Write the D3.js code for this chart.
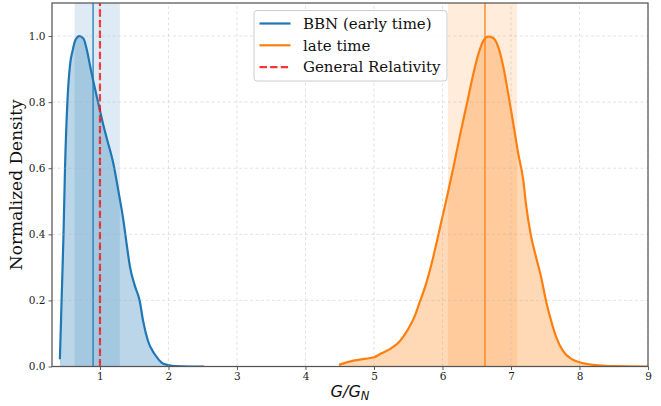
<!DOCTYPE html>
<html>
<head>
<meta charset="utf-8">
<script src="https://cdn.jsdelivr.net/npm/d3@7"></script>
<style>
  html, body { margin: 0; padding: 0; background: #fff; }
  svg { display: block; }
</style>
</head>
<body>
<svg id="chart" width="661" height="406"></svg>
<script>
// Posterior density of G/G_N for the two epochs
const bbnX = [0.415, 0.44, 0.468, 0.49, 0.526, 0.565, 0.60, 0.64, 0.70, 0.76, 0.81, 0.855, 0.90, 0.95, 1.0, 1.05, 1.1, 1.2, 1.27, 1.34, 1.39, 1.44, 1.51, 1.58, 1.63, 1.70, 1.80, 1.90, 2.0, 2.1, 2.3, 2.52];
const bbnY = [0.022, 0.20, 0.40, 0.60, 0.806, 0.916, 0.955, 0.987, 1.0, 0.992, 0.957, 0.911, 0.866, 0.82, 0.775, 0.73, 0.69, 0.61, 0.53, 0.445, 0.37, 0.30, 0.244, 0.199, 0.138, 0.078, 0.037, 0.012, 0.004, 0.001, 0.0, 0.0];

const lateX = [4.49, 4.70, 4.89, 5.0, 5.11, 5.25, 5.37, 5.49, 5.59, 5.66, 5.76, 5.84, 5.92, 5.985, 6.055, 6.16, 6.26, 6.356, 6.45, 6.525, 6.598, 6.67, 6.74, 6.816, 6.89, 6.96, 7.034, 7.107, 7.18, 7.22, 7.29, 7.366, 7.44, 7.51, 7.585, 7.66, 7.756, 7.88, 8.0, 8.2, 8.5, 9.0];
const lateY = [0.005, 0.018, 0.024, 0.028, 0.04, 0.055, 0.075, 0.11, 0.15, 0.19, 0.25, 0.31, 0.38, 0.44, 0.503, 0.603, 0.704, 0.795, 0.885, 0.946, 0.986, 0.998, 0.994, 0.966, 0.905, 0.825, 0.734, 0.643, 0.563, 0.49, 0.397, 0.331, 0.27, 0.20, 0.139, 0.089, 0.048, 0.023, 0.013, 0.005, 0.001, 0.0];

// Median and 68% interval of each posterior
const bbnMedian = 0.90;
const bbnBand = [0.63, 1.29];
const lateMedian = 6.62;
const lateBand = [6.08, 7.09];
const grValue = 1.0;

const xTicks = [1, 2, 3, 4, 5, 6, 7, 8, 9];
const yTicks = [0.0, 0.2, 0.4, 0.6, 0.8, 1.0];
const legendLabels = ["BBN (early time)", "late time", "General Relativity"];

const blue = "#1f77b4", orange = "#ff7f0e", red = "#ff0000";
const serif = "'DejaVu Serif', serif";

const svg = d3.select("#chart");
const W = 661, H = 406;
const margin = { left: 52, right: 13, top: 3, bottom: 39.5 };
const x = d3.scaleLinear().domain([0.3, 9]).range([margin.left, W - margin.right]);
const y = d3.scaleLinear().domain([0, 1.1]).range([H - margin.bottom, margin.top]);

const bbn = bbnX.map((v, i) => ({ x: v, y: bbnY[i] }));
const late = lateX.map((v, i) => ({ x: v, y: lateY[i] }));

svg.append("defs").append("clipPath").attr("id", "plot")
  .append("rect").attr("x", x.range()[0]).attr("y", y.range()[1])
  .attr("width", x.range()[1] - x.range()[0]).attr("height", y.range()[0] - y.range()[1]);

const g = svg.append("g").attr("clip-path", "url(#plot)");

// interval bands
[[bbnBand, blue], [lateBand, orange]].forEach(([b, c]) => {
  g.append("rect")
    .attr("x", x(b[0])).attr("width", x(b[1]) - x(b[0]))
    .attr("y", y(1.1)).attr("height", y(0) - y(1.1))
    .attr("fill", c).attr("fill-opacity", 0.15);
});

// area under density
const area = d3.area().x(d => x(d.x)).y0(y(0)).y1(d => y(d.y)).curve(d3.curveMonotoneX);
g.append("path").datum(bbn).attr("d", area).attr("fill", blue).attr("fill-opacity", 0.3);
g.append("path").datum(late).attr("d", area).attr("fill", orange).attr("fill-opacity", 0.3);

// grid
const grid = svg.append("g").attr("stroke", "#b0b0b0").attr("stroke-opacity", 0.45)
  .attr("stroke-width", 0.8).attr("stroke-dasharray", "3,2.5");
xTicks.forEach(t => grid.append("line").attr("x1", x(t)).attr("x2", x(t)).attr("y1", y(0)).attr("y2", y(1.1)));
yTicks.forEach(t => grid.append("line").attr("x1", x(0.3)).attr("x2", x(9)).attr("y1", y(t)).attr("y2", y(t)));

// density curves
const line = d3.line().x(d => x(d.x)).y(d => y(d.y)).curve(d3.curveMonotoneX);
g.append("path").datum(bbn).attr("d", line).attr("fill", "none").attr("stroke", blue).attr("stroke-width", 2.2).attr("stroke-linejoin", "round");
g.append("path").datum(late).attr("d", line).attr("fill", "none").attr("stroke", orange).attr("stroke-width", 2.2).attr("stroke-linejoin", "round");

// medians
[[bbnMedian, blue], [lateMedian, orange]].forEach(([m, c]) => {
  g.append("line").attr("x1", x(m)).attr("x2", x(m)).attr("y1", y(0)).attr("y2", y(1.1))
    .attr("stroke", c).attr("stroke-width", 1.5).attr("stroke-opacity", 0.85);
});

// GR reference
g.append("line").attr("x1", x(grValue)).attr("x2", x(grValue)).attr("y1", y(0)).attr("y2", y(1.1))
  .attr("stroke", red).attr("stroke-opacity", 0.8).attr("stroke-width", 2.2).attr("stroke-dasharray", "7.4,3.2");

// axes
const xAxis = svg.append("g").attr("transform", `translate(0,${y(0)})`)
  .call(d3.axisBottom(x).tickValues(xTicks).tickFormat(d3.format("d")).tickSize(3.5).tickPadding(3));
const yAxis = svg.append("g").attr("transform", `translate(${x(0.3)},0)`)
  .call(d3.axisLeft(y).tickValues(yTicks).tickFormat(d3.format(".1f")).tickSize(3.5).tickPadding(3));
[xAxis, yAxis].forEach(a => {
  a.attr("font-family", serif);
  a.select(".domain").remove();
  a.selectAll("line").attr("stroke", "#333").attr("stroke-width", 0.8);
  a.selectAll("text").style("font-family", serif).attr("font-size", 10.5).attr("fill", "#222");
});

// frame
svg.append("rect").attr("x", x(0.3)).attr("y", y(1.1))
  .attr("width", x(9) - x(0.3)).attr("height", y(0) - y(1.1))
  .attr("fill", "none").attr("stroke", "#555").attr("stroke-width", 1.25);

// axis titles
svg.append("text").attr("transform", `translate(22,${(y(0) + y(1.1)) / 2}) rotate(-90)`)
  .attr("text-anchor", "middle").attr("font-family", serif).attr("font-size", 17).attr("fill", "#111")
  .text("Normalized Density");

const xl = svg.append("text").attr("x", (x(0.3) + x(9)) / 2).attr("y", 397)
  .attr("text-anchor", "middle").attr("font-family", "'DejaVu Sans', sans-serif")
  .attr("font-style", "italic").attr("font-size", 16).attr("fill", "#111");
xl.append("tspan").text("G/G");
xl.append("tspan").attr("font-size", 11.5).attr("dy", 3).text("N");

// legend
const lg = svg.append("g").attr("transform", "translate(254,10.5)");
lg.append("rect").attr("width", 193).attr("height", 70.5).attr("rx", 3)
  .attr("fill", "#fff").attr("fill-opacity", 0.8).attr("stroke", "#ccc").attr("stroke-width", 1);
const styles = [
  { c: blue, dash: null, op: 1 },
  { c: orange, dash: null, op: 1 },
  { c: red, dash: "7.4,3.2", op: 0.8 }
];
legendLabels.forEach((lab, i) => {
  const cy = 13 + i * 21.8;
  lg.append("line").attr("x1", 5.5).attr("x2", 36.5).attr("y1", cy).attr("y2", cy)
    .attr("stroke", styles[i].c).attr("stroke-width", 2.2).attr("stroke-opacity", styles[i].op)
    .attr("stroke-dasharray", styles[i].dash);
  lg.append("text").attr("x", 49).attr("y", cy).attr("dy", "0.35em")
    .attr("font-family", serif).attr("font-size", 15).attr("fill", "#111").text(lab);
});
</script>
</body>
</html>
